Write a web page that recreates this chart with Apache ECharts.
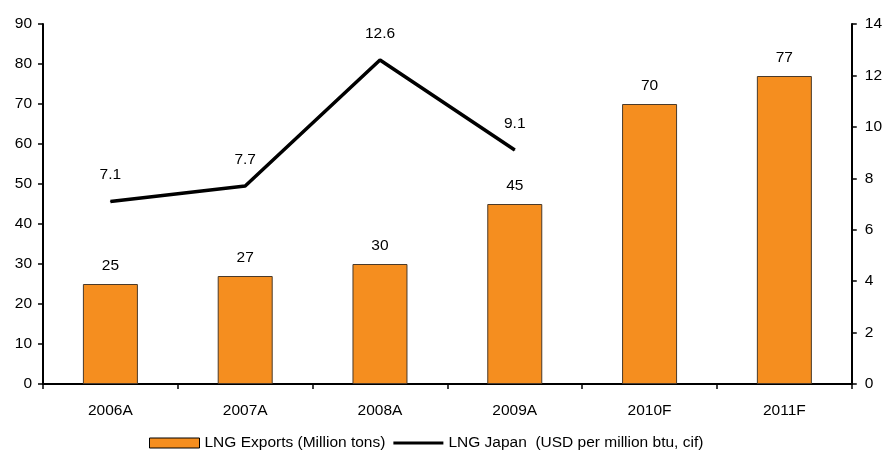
<!DOCTYPE html>
<html>
<head>
<meta charset="utf-8">
<script src="https://cdn.jsdelivr.net/npm/echarts@6/dist/echarts.min.js"></script>
<style>
  html, body { margin: 0; padding: 0; background: #fff; }
  #chart { width: 885px; height: 453px; }
</style>
</head>
<body>
<div id="chart"></div>
<script>
// Years on the category axis
const years = ['2006A', '2007A', '2008A', '2009A', '2010F', '2011F'];
// LNG exports, million tons
const lngExports = [25, 27, 30, 45, 70, 77];
// LNG Japan price, USD per million btu (cif); no values for forecast years
const lngJapan = [7.1, 7.7, 12.6, 9.1, null, null];
// Axis ranges
const leftTicks = { min: 0, max: 90, interval: 10 };
const rightTicks = { min: 0, max: 14, interval: 2 };

const font = 'Liberation Sans, Arial, sans-serif';
const fs = 15.5;
const chart = echarts.init(document.getElementById('chart'));

chart.setOption({
  animation: false,
  textStyle: { fontFamily: font },
  grid: { left: 43, right: 33, top: 24, bottom: 69 },
  legend: {
    top: 430,
    left: 144,
    itemWidth: 50,
    itemHeight: 10,
    itemGap: 8,
    symbolKeepAspect: true,
    textStyle: { fontFamily: font, fontSize: fs, color: '#000' },
    data: [
      { name: 'LNG Exports (Million tons)', icon: 'rect', itemStyle: { color: '#F58E1F', borderColor: '#000', borderWidth: 1 } },
      { name: 'LNG Japan  (USD per million btu, cif)', icon: 'path://M0,0L50,0L50,3L0,3Z', itemStyle: { color: '#000', borderWidth: 0 } }
    ]
  },
  xAxis: {
    type: 'category',
    data: years,
    boundaryGap: true,
    axisLine: { lineStyle: { color: '#000', width: 2 } },
    axisTick: { show: true, length: 5, lineStyle: { color: '#000', width: 1.5 } },
    axisLabel: { color: '#000', fontSize: fs, fontFamily: font, margin: 19 }
  },
  yAxis: [
    {
      type: 'value',
      min: leftTicks.min, max: leftTicks.max, interval: leftTicks.interval,
      axisLine: { show: true, lineStyle: { color: '#000', width: 2 } },
      axisTick: { show: true, length: 5, lineStyle: { color: '#000', width: 1.5 } },
      axisLabel: { color: '#000', fontSize: fs, fontFamily: font, margin: 11 },
      splitLine: { show: false }
    },
    {
      type: 'value',
      position: 'right',
      min: rightTicks.min, max: rightTicks.max, interval: rightTicks.interval,
      axisLine: { show: true, lineStyle: { color: '#000', width: 2 } },
      axisTick: { show: true, length: 5, lineStyle: { color: '#000', width: 1.5 } },
      axisLabel: { color: '#000', fontSize: fs, fontFamily: font, margin: 13 },
      splitLine: { show: false }
    }
  ],
  series: [
    {
      name: 'LNG Exports (Million tons)',
      type: 'bar',
      yAxisIndex: 0,
      data: lngExports,
      barWidth: 55,
      itemStyle: { color: '#F58E1F', borderColor: '#4a3a2a', borderWidth: 1 },
      label: { show: true, position: 'top', distance: 10, color: '#000', fontSize: fs, fontFamily: font }
    },
    {
      name: 'LNG Japan  (USD per million btu, cif)',
      type: 'line',
      yAxisIndex: 1,
      data: lngJapan,
      showSymbol: true,
      symbol: 'circle',
      symbolSize: 1,
      connectNulls: false,
      lineStyle: { color: '#000', width: 3.5 },
      itemStyle: { color: '#000' },
      label: { show: true, position: 'top', distance: 18, color: '#000', fontSize: fs, fontFamily: font }
    }
  ]
});
</script>
</body>
</html>
